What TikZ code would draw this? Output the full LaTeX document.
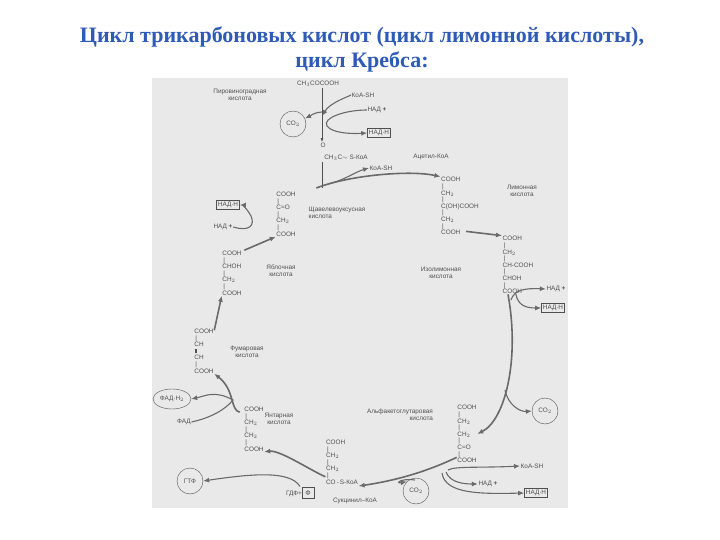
\documentclass[tikz,border=0pt]{standalone}
\usepackage{fontspec}
\setmainfont{Liberation Sans}
\newfontfamily\titlefont{Liberation Serif}
\usetikzlibrary{arrows.meta,shapes.geometric}
\definecolor{panel}{HTML}{E9E9E9}
\definecolor{ink}{HTML}{505050}
\definecolor{ttl}{HTML}{2F5BB7}
\begin{document}
\begin{tikzpicture}[x=1pt,y=-1pt,
  t/.style={font=\fontsize{6.4}{6.8}\selectfont,text=ink,inner sep=0.5pt},
  chem/.style={t,align=left,font=\fontsize{6.4}{6.6}\selectfont},
  bx/.style={t,draw=ink,inner sep=1.5pt},
  circ/.style={t,draw=ink,circle,minimum size=26pt,inner sep=0},
  ar/.style={draw=ink!85,line width=1.6pt,-{Latex[length=6pt,width=5pt]}},
  thin/.style={draw=ink,line width=0.7pt,-{Latex[length=4pt,width=3pt]}}]
\useasboundingbox (0,0) rectangle (720,540);
\fill[white] (0,0) rectangle (720,540);
\node[font=\titlefont\bfseries\fontsize{22}{24}\selectfont,text=ttl] (t1) at (362,37) {Цикл трикарбоновых кислот (цикл лимонной кислоты),};
\node[font=\titlefont\bfseries\fontsize{22}{24}\selectfont,text=ttl] (t2) at (362,62) {цикл Кребса:};
\fill[panel] (152,78) rectangle (568,508);
% pyruvate
\node[t] (pyr) at (318,84) {CH$_3$COCOOH};
\node[t,align=center] (pyrl) at (240,95) {Пировиноградная\\кислота};
\node[t] (koa1) at (363,95) {КоА-SH};
\node[t] (nad1) at (377,110) {НАД \textbf{+}};
\node[circ] (co21) at (293,124) {CO$_2$};
\node[bx] (nadh1) at (379,133) {НАД·Н};
\node[t] (o) at (323,145) {O};
\node[t] (acoa) at (346,158) {CH$_3$C$\sim$ S-КоА};
\node[t] (acl) at (431,157) {Ацетил-КоА};
\node[t] (koa2) at (381,168) {КоА-SH};
\coordinate (m1) at (322,188);
% oxaloacetate
\node[chem] (oxa) at (286,214) {COOH\\\,|\\C=O\\\,|\\CH$_2$\\\,|\\COOH};
\node[t,align=left] (oxal) at (337,213) {Щавелевоуксусная\\кислота};
\node[bx] (nadh2) at (228,205) {НАД·Н};
\node[t] (nad2) at (223,227) {НАД \textbf{+}};
% citrate
\node[chem] (cit) at (460,206) {COOH\\\,|\\CH$_2$\\\,|\\C(OH)COOH\\\,|\\CH$_2$\\\,|\\COOH};
\node[t,align=center] (citl) at (522,191) {Лимонная\\кислота};
% isocitrate
\node[chem] (iso) at (518,265) {COOH\\\,|\\CH$_2$\\\,|\\CH-COOH\\\,|\\CHOH\\\,|\\COOH};
\node[t,align=center] (isol) at (441,273) {Изолимонная\\кислота};
\node[t] (nad3) at (556,289) {НАД \textbf{+}};
\node[bx] (nadh3) at (553,308) {НАД·Н};
% malate
\node[chem] (mal) at (232,273) {COOH\\\,|\\CHOH\\\,|\\CH$_2$\\\,|\\COOH};
\node[t,align=center] (mall) at (281,271) {Яблочная\\кислота};
% fumarate
\node[chem] (fum) at (204,351) {COOH\\\,|\\CH\\\,\rule{0.8pt}{4pt}\rule{0.8pt}{4pt}\\CH\\\,|\\COOH};
\node[t,align=center] (fuml) at (247,352) {Фумаровая\\кислота};
% succinate
\node[chem] (suc) at (254,429) {COOH\\\,|\\CH$_2$\\\,|\\CH$_2$\\\,|\\COOH};
\node[t,align=center] (sucl) at (279,419) {Янтарная\\кислота};
\node[t,draw=ink,ellipse,minimum width=38pt,minimum height=20pt] (fadh) at (172,399) {ФАД·Н$_2$};
\node[t] (fad) at (184,422) {ФАД};
% akg
\node[chem] (akg) at (467,434) {COOH\\\,|\\CH$_2$\\\,|\\CH$_2$\\\,|\\C=O\\\,|\\COOH};
\node[t,align=right] (akgl) at (400,415) {Альфакетоглутаровая\\кислота};
\node[circ] (co23) at (545,411) {CO$_2$};
\node[t] (koa3) at (532,466) {КоА-SH};
\node[t] (nad4) at (488,484) {НАД \textbf{+}};
\node[bx] (nadh4) at (536,493) {НАД·Н};
% succinyl
\node[chem] (scoa) at (342,462) {COOH\\\,|\\CH$_2$\\\,|\\CH$_2$\\\,|\\CO\,-\,S-КоА};
\node[t] (scl) at (355,501) {Сукцинил–КоА};
\node[circ] (co24) at (416,491) {CO$_2$};
\node[circ] (gtf) at (190,481) {ГТФ};
\node[t] (gdf) at (300,493) {ГДФ+\fbox{\scriptsize Ф}};
% connectors
\draw[thin] (pyr.south -| 322,0) -- (o.north -| 322,0);
\draw[ar,line width=1.1pt] (322,112) .. controls (315,112) and (310,116) .. (co21);
\draw[ar,line width=1.1pt] (koa1.west) .. controls (345,98) and (330,103) .. (322,116);
\draw[ar,line width=1.1pt] (nad1.west) .. controls (345,110) and (322,118) .. (327,126) .. controls (332,133) and (350,134) .. (nadh1.west);
\draw[ink,line width=0.8pt] (acoa.south -| 322,0) -- (m1);
\draw[ar,line width=1.1pt] (328,184) .. controls (345,180) and (355,172) .. (koa2.west);
\draw[ar] (oxa.east |- 0,188) ++(20,0) .. controls (350,175) and (410,170) .. (cit.north west);
\draw[ar] (cit.south) ++(6,-4) -- (iso.north west);
\draw[ar] (iso.south) ++(-10,0) .. controls (520,360) and (505,420) .. (akg.east);
\draw[ar,line width=1.1pt] (511,300) .. controls (514,290) and (525,288) .. (nad3.west);
\draw[ar,line width=1.1pt] (nad3.west) ++(-30,5) .. controls (518,305) and (525,308) .. (nadh3.west);
\draw[ar,line width=1.1pt] (505,390) .. controls (508,405) and (520,412) .. (co23.west);
\draw[ar] (akg.south west) ++(0,-6) .. controls (430,470) and (400,480) .. (scoa.east |- 0,486);
\draw[ar,line width=1.1pt] (448,470) .. controls (455,466) and (480,468) .. (koa3.west);
\draw[ar,line width=1.1pt] (446,472) .. controls (450,483) and (465,484) .. (nad4.west);
\draw[ar,line width=1.1pt] (442,473) .. controls (445,494) and (480,494) .. (nadh4.west);
\draw[ar,line width=1.1pt] (415,480) .. controls (400,478) and (395,484) .. (co24.north west);
\draw[ar] (scoa.south west) ++(0,-8) .. controls (310,470) and (280,450) .. (suc.south east);
\draw[ar,line width=1.1pt] (gdf.north) .. controls (290,470) and (250,474) .. (gtf.east);
\draw[ar] (suc.north west) ++(-4,6) .. controls (230,410) and (235,390) .. (fum.south east);
\draw[ar,line width=1.1pt] (fad.east) .. controls (210,418) and (225,410) .. (233,400) .. controls (215,390) and (205,396) .. (fadh.east);
\draw[ar] (fum.north east) ++(0,2) -- (mal.south west);
\draw[ar] (mal.north east) ++(2,0) -- (oxa.south west);
\draw[ar,line width=1.1pt] (nad2.east) .. controls (250,232) and (255,225) .. (251,216) .. controls (245,205) and (240,205) .. (nadh2.east);
\end{tikzpicture}
\end{document}
